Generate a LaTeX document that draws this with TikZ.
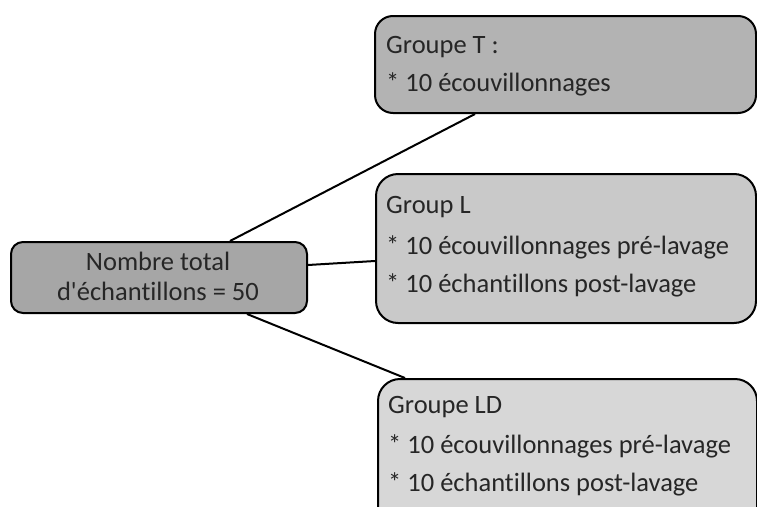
\documentclass[tikz,border=0pt]{standalone}
\usepackage{fontspec}
\setmainfont[Ligatures=NoCommon]{Carlito}
\definecolor{cgray}{HTML}{A6A6A6}
\definecolor{tgray}{HTML}{B3B3B3}
\definecolor{lgray}{HTML}{C9C9C9}
\definecolor{ldgray}{HTML}{D7D7D7}
\definecolor{txt}{HTML}{262626}
\tikzset{
  box/.style={draw=black, line width=2pt, rounded corners=#1, inner sep=0pt, anchor=north west},
  lbl/.style={anchor=base west, inner sep=0pt, text=txt, font=\fontsize{26.5}{30}\selectfont},
  clbl/.style={anchor=base, inner sep=0pt, text=txt, font=\fontsize{26.5}{30}\selectfont},
  link/.style={line width=2pt, draw=black}
}
\begin{document}
\begin{tikzpicture}[x=1pt,y=-1pt]
\useasboundingbox (0,0) rectangle (757,506);
\clip (0,0) rectangle (757,506);
% boxes
\node[box=12pt, fill=cgray, minimum width=296pt, minimum height=71pt] (c) at (10,241) {};
\node[box=18pt, fill=tgray, minimum width=381pt, minimum height=97pt] (t) at (374,15) {};
\node[box=22pt, fill=lgray, minimum width=380pt, minimum height=149pt] (l) at (375,173) {};
\node[box=22pt, fill=ldgray, minimum width=379pt, minimum height=160pt] (ld) at (377,378) {};
% texts
\node[clbl] (c1) at (158,270) {Nombre total};
\node[clbl] (c2) at (158,300) {d\textquotesingle échantillons = 50};
\node[lbl] (t1) at (386,53) {Groupe T :};
\node[lbl] (t2) at (386,91) {* 10 écouvillonnages};
\node[lbl] (l1) at (386,213) {Group L};
\node[lbl] (l2) at (386,254) {* 10 écouvillonnages pré-lavage};
\node[lbl] (l3) at (386,292) {* 10 échantillons post-lavage};
\node[lbl] (ld1) at (388,413) {Groupe LD};
\node[lbl] (ld2) at (388,453) {* 10 écouvillonnages pré-lavage};
\node[lbl] (ld3) at (388,491) {* 10 échantillons post-lavage};
% connectors
\draw[link] ([xshift=220pt]c.north west) -- ([xshift=101pt]t.south west);
\draw[link] ([yshift=-24pt]c.north east) -- ([yshift=-88pt]l.north west);
\draw[link] ([xshift=237pt]c.south west) -- ([xshift=28pt]ld.north west);
\end{tikzpicture}
\end{document}
